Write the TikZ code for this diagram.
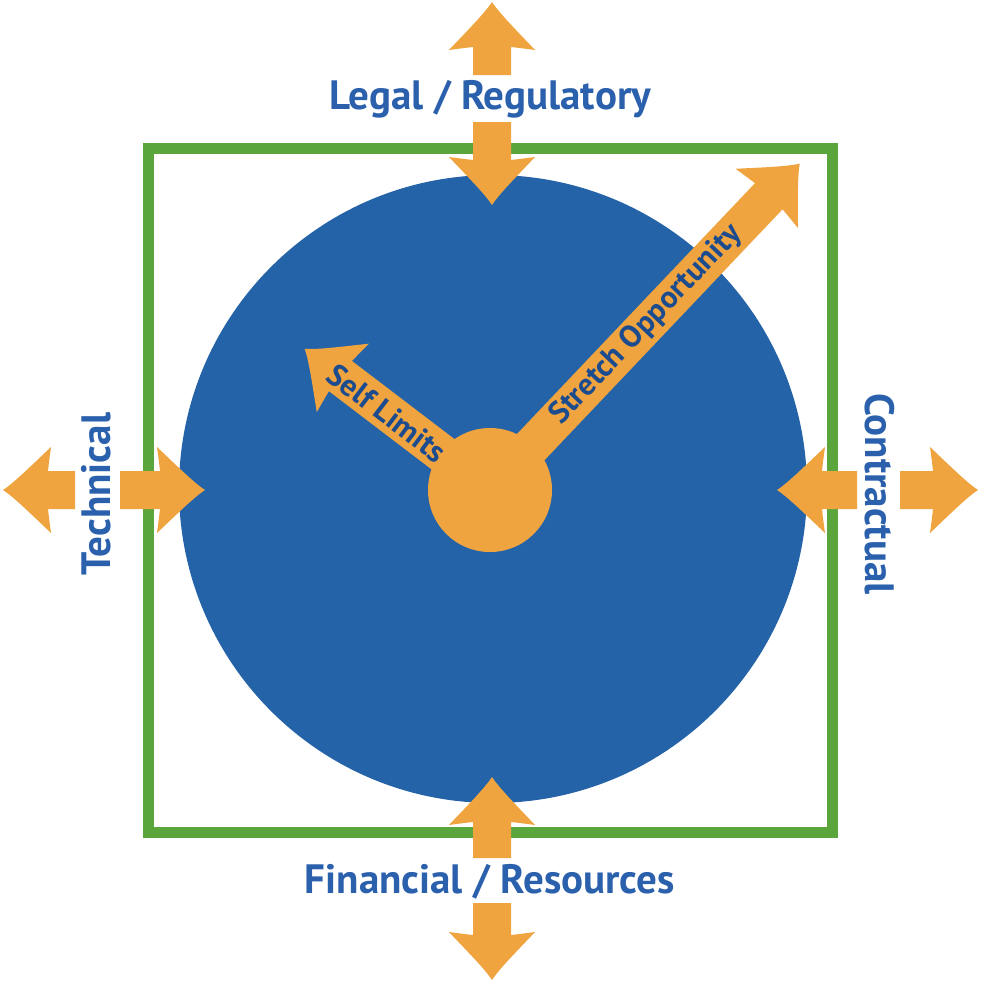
\documentclass[tikz,border=0pt]{standalone}
\usepackage{fontspec}
\setmainfont{PT Sans}
\usepackage{tikz}
\usetikzlibrary{calc}
\usetikzlibrary{positioning}

\definecolor{discblue}{HTML}{2563A8}
\definecolor{labelblue}{HTML}{2A60AC}
\definecolor{darkblue}{HTML}{1D4C8E}
\definecolor{pushorange}{HTML}{F0A440}
\definecolor{limitgreen}{HTML}{5AA63C}

% fat arrow: tail point, direction, shaft length
\newcommand{\fatarrow}[3]{%
  \fill[pushorange, shift={#1}, rotate=#2]
    (0,-19) -- (#3,-19) .. controls (#3-1,-28) .. (#3-3,-43)
    .. controls (#3+14,-27) and (#3+34,-7) .. (#3+45,0)
    .. controls (#3+34,7) and (#3+14,27) .. (#3-3,43)
    .. controls (#3-1,28) .. (#3,19) -- (0,19) -- cycle;}

\begin{document}
\begin{tikzpicture}[
        x=1pt, y=-1pt,
        boundary/.style={draw=limitgreen, line width=11pt},
        disc/.style={fill=discblue},
        hub/.style={fill=pushorange},
        side label/.style={text=labelblue, font=\fontsize{41}{43}\selectfont\bfseries, inner sep=0pt},
        arrow label/.style={text=darkblue, font=\fontsize{31}{33}\selectfont\bfseries, inner sep=0pt},
        every node/.style={color=black}
        ]
        \useasboundingbox (0,0) rectangle (980,982);

        \coordinate (O) at (490,490);

        % square and disc
        \draw[boundary] (148,148) rectangle (832,832);
        \fill[disc] (493,489) circle (314);

        % pushing arrows
        \fatarrow{(492,75)}{90}{28}
        \fatarrow{(492,122)}{270}{38}
        \fatarrow{(75,490)}{180}{27}
        \fatarrow{(120,490)}{0}{40}
        \fatarrow{(857,490)}{180}{35}
        \fatarrow{(900,490)}{0}{33}
        \fatarrow{(492,858)}{90}{36}
        \fatarrow{(492,903)}{270}{32}

        % clock hands
        \fatarrow{(O)}{46.5}{405}
        \fatarrow{(O)}{142.7}{188}
        \fill[hub] (O) circle (62);

        \node[side label] (legal) at (490,99) {Legal / Regulatory};
        \node[side label] (financial) at (490,882) {Financial / Resources};
        \node[side label, rotate=90] (technical) at (96,494) {Technical};
        \node[side label, rotate=-90] (contractual) at (880,494) {Contractual};

        \node[arrow label, rotate=46.5] (stretch) at (646,325) {Stretch Opportunity};
        \node[arrow label, rotate=-37.3] (self) at (387,413) {Self Limits};

    \end{tikzpicture}
\end{document}
